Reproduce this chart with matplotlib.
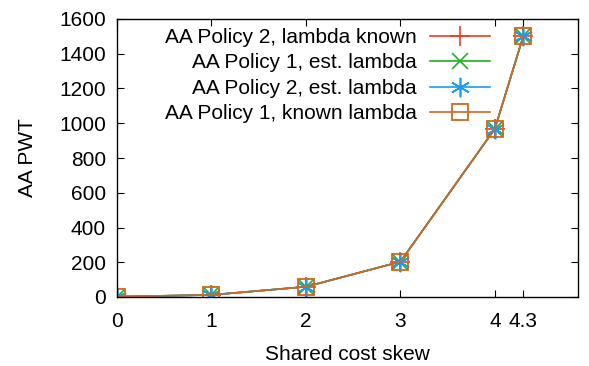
import matplotlib
matplotlib.use("Agg")
import matplotlib.pyplot as plt

plt.rcParams['font.family'] = ['Liberation Sans', 'DejaVu Sans']

x = [0, 1, 2, 3, 4, 4.3]
p2_known = [2, 12, 59, 203, 968, 1500]
p1_est = [2, 12, 59, 203, 968, 1500]
p2_est = [2, 12, 59, 203, 968, 1500]
p1_known = [2, 12, 59, 203, 968, 1500]
xticks = [0, 1, 2, 3, 4, 4.3]
xticklabels = ["0", "1", "2", "3", "4", "4.3"]
yticks = [0, 200, 400, 600, 800, 1000, 1200, 1400, 1600]

fig = plt.figure(figsize=(5.89, 3.66), dpi=100)
ax = fig.add_axes([117/589, 1 - 297/366, (578-117)/589, (297-19)/366])

ax.plot(x, p2_known, color='#f23c1c', marker='+', ms=15, mew=1.2, lw=1.2, label='AA Policy 2, lambda known')
ax.plot(x, p1_est, color='#1db31d', marker='x', ms=11, mew=1.2, lw=1.2, label='AA Policy 1, est. lambda')
ax.plot(x, p2_est, color='#1a9cf0', marker=(6, 2, 0), ms=14, mew=1.2, lw=1.2, label='AA Policy 2, est. lambda')
ax.plot(x, p1_known, color='#d2661e', marker='s', ms=12, mfc='none', mew=1.3, lw=1.2, label='AA Policy 1, known lambda')

ax.set_xlim(0, 4.88)
ax.set_ylim(0, 1600)
ax.set_xticks(xticks)
ax.set_xticklabels(xticklabels)
ax.set_yticks(yticks)
ax.tick_params(axis='both', direction='in', top=True, right=True, labelsize=15, length=5)
ax.tick_params(axis='x', pad=11)
ax.tick_params(axis='y', pad=8)
for s in ax.spines.values():
    s.set_linewidth(1.0)
ax.set_xlabel('Shared cost skew', fontsize=15, labelpad=10)
ax.set_ylabel('AA PWT', fontsize=15, labelpad=16)

leg = ax.legend(loc='upper right', bbox_to_anchor=(490/589, 1 - 28/366), bbox_transform=fig.transFigure,
                frameon=False, fontsize=15, markerfirst=False, handlelength=2.9,
                labelspacing=0.31, handletextpad=0.6, borderaxespad=0, borderpad=0)
for t in leg.get_texts():
    t.set_ha('right')
leg._legend_box.align = 'right'

fig.savefig('out.png', dpi=100)
